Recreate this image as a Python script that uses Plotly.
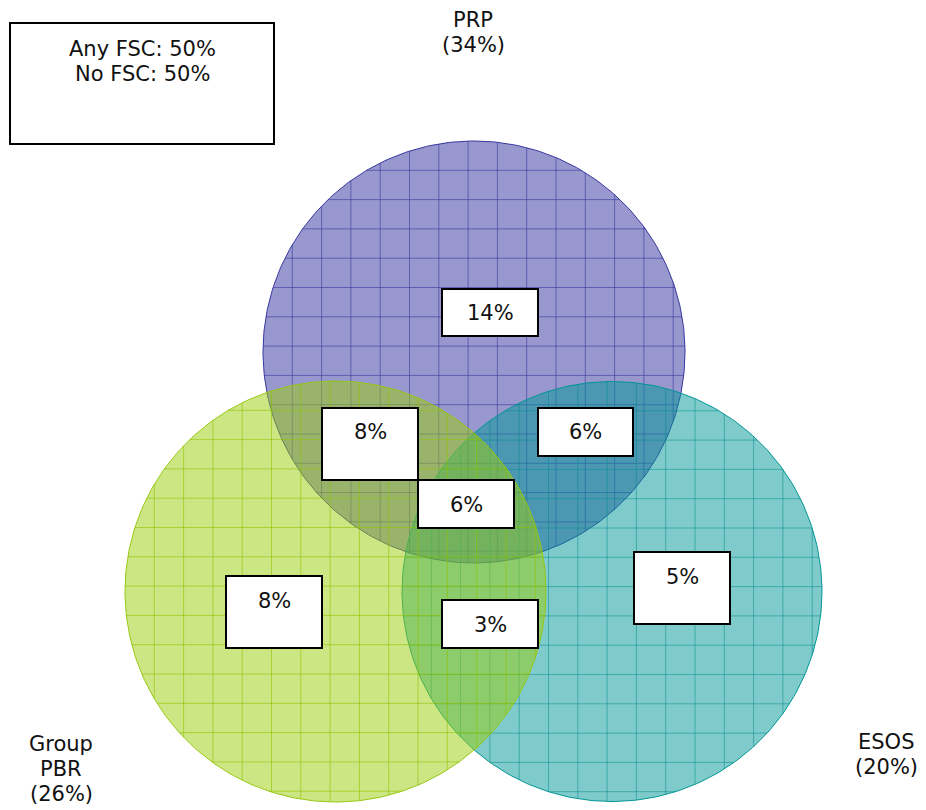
import numpy as np
import plotly.graph_objects as go

# ---- data ----
set_names = ["PRP", "ESOS", "Group<br>PBR"]
set_totals = [34, 20, 26]
region_names = ["PRP only", "PRP & PBR", "PRP & ESOS", "All three", "ESOS only", "PBR only", "PBR & ESOS"]
region_values = [14, 8, 6, 6, 5, 8, 3]
summary_labels = ["Any FSC", "No FSC"]
summary_values = [50, 50]

# ---- layout (pixel geometry) ----
W, H = 926, 810
circles = [
    dict(cx=474, cy=352, r=211, fill="rgba(49,49,157,0.5)", edge="rgba(55,55,160,1)", grid="rgba(55,55,160,0.6)"),
    dict(cx=612, cy=591.5, r=210, fill="rgba(0,150,150,0.5)", edge="rgba(0,150,150,1)", grid="rgba(0,140,140,0.5)"),
    dict(cx=335.5, cy=591.5, r=210.5, fill="rgba(155,205,10,0.5)", edge="rgba(150,200,20,1)", grid="rgba(140,195,0,0.6)"),
]
set_label_pos = [(473, 20), (886, 742), (61, 744)]
region_boxes = [  # x0, y0, x1, y1, text y
    (442, 289, 538, 336, 313),
    (322, 408, 418, 480, 432),
    (538, 408, 633, 456, 432),
    (418, 480, 514, 528, 505),
    (634, 552, 730, 624, 577),
    (226, 576, 322, 648, 601),
    (442, 600, 538, 648, 625),
]
legend_box = (10, 23, 274, 144)
legend_text_y = 49
LINE = 25
STEP = 29.3
FONT = "DejaVu Sans"
FSIZE = 21

fig = go.Figure()
t = np.linspace(0, 2 * np.pi, 361)
for c in circles:
    fig.add_trace(go.Scatter(
        x=c["cx"] + c["r"] * np.cos(t), y=c["cy"] + c["r"] * np.sin(t),
        mode="lines", fill="toself", fillcolor=c["fill"],
        line=dict(color=c["edge"], width=1), hoverinfo="skip", showlegend=False))
    gx, gy = [], []
    x0, y0 = c["cx"] - c["r"], c["cy"] - c["r"]
    k = 1
    while x0 + k * STEP < c["cx"] + c["r"]:
        x = x0 + k * STEP
        h = np.sqrt(max(c["r"] ** 2 - (x - c["cx"]) ** 2, 0))
        gx += [x, x, None]; gy += [c["cy"] - h, c["cy"] + h, None]
        k += 1
    k = 1
    while y0 + k * STEP < c["cy"] + c["r"]:
        y = y0 + k * STEP
        h = np.sqrt(max(c["r"] ** 2 - (y - c["cy"]) ** 2, 0))
        gx += [c["cx"] - h, c["cx"] + h, None]; gy += [y, y, None]
        k += 1
    fig.add_trace(go.Scatter(x=gx, y=gy, mode="lines", line=dict(color=c["grid"], width=1),
                             hoverinfo="skip", showlegend=False))

shapes = []
annotations = []


def add_lines(x, y, lines):
    for i, s in enumerate(lines):
        annotations.append(dict(x=x, y=y + i * LINE, xref="x", yref="y", text=s,
                                showarrow=False, font=dict(family=FONT, size=FSIZE, color="#111")))


for (bx0, by0, bx1, by1, ty), v in zip(region_boxes, region_values):
    shapes.append(dict(type="rect", xref="x", yref="y", x0=bx0, y0=by0, x1=bx1, y1=by1,
                       fillcolor="white", line=dict(color="black", width=2), layer="above"))
    add_lines((bx0 + bx1) / 2, ty, [f"{v}%"])

lx0, ly0, lx1, ly1 = legend_box
shapes.append(dict(type="rect", xref="x", yref="y", x0=lx0, y0=ly0, x1=lx1, y1=ly1,
                   fillcolor="white", line=dict(color="black", width=2), layer="above"))
add_lines((lx0 + lx1) / 2, legend_text_y, [f"{l}: {v}%" for l, v in zip(summary_labels, summary_values)])

for (px, py), n, v in zip(set_label_pos, set_names, set_totals):
    add_lines(px, py, n.split("<br>") + [f"({v}%)"])

fig.update_layout(
    width=W, height=H, margin=dict(l=0, r=0, t=0, b=0),
    paper_bgcolor="white", plot_bgcolor="white",
    xaxis=dict(range=[0, W], visible=False, fixedrange=True),
    yaxis=dict(range=[H, 0], visible=False, fixedrange=True),
    shapes=shapes, annotations=annotations, showlegend=False,
)
fig.write_html("out.html")
